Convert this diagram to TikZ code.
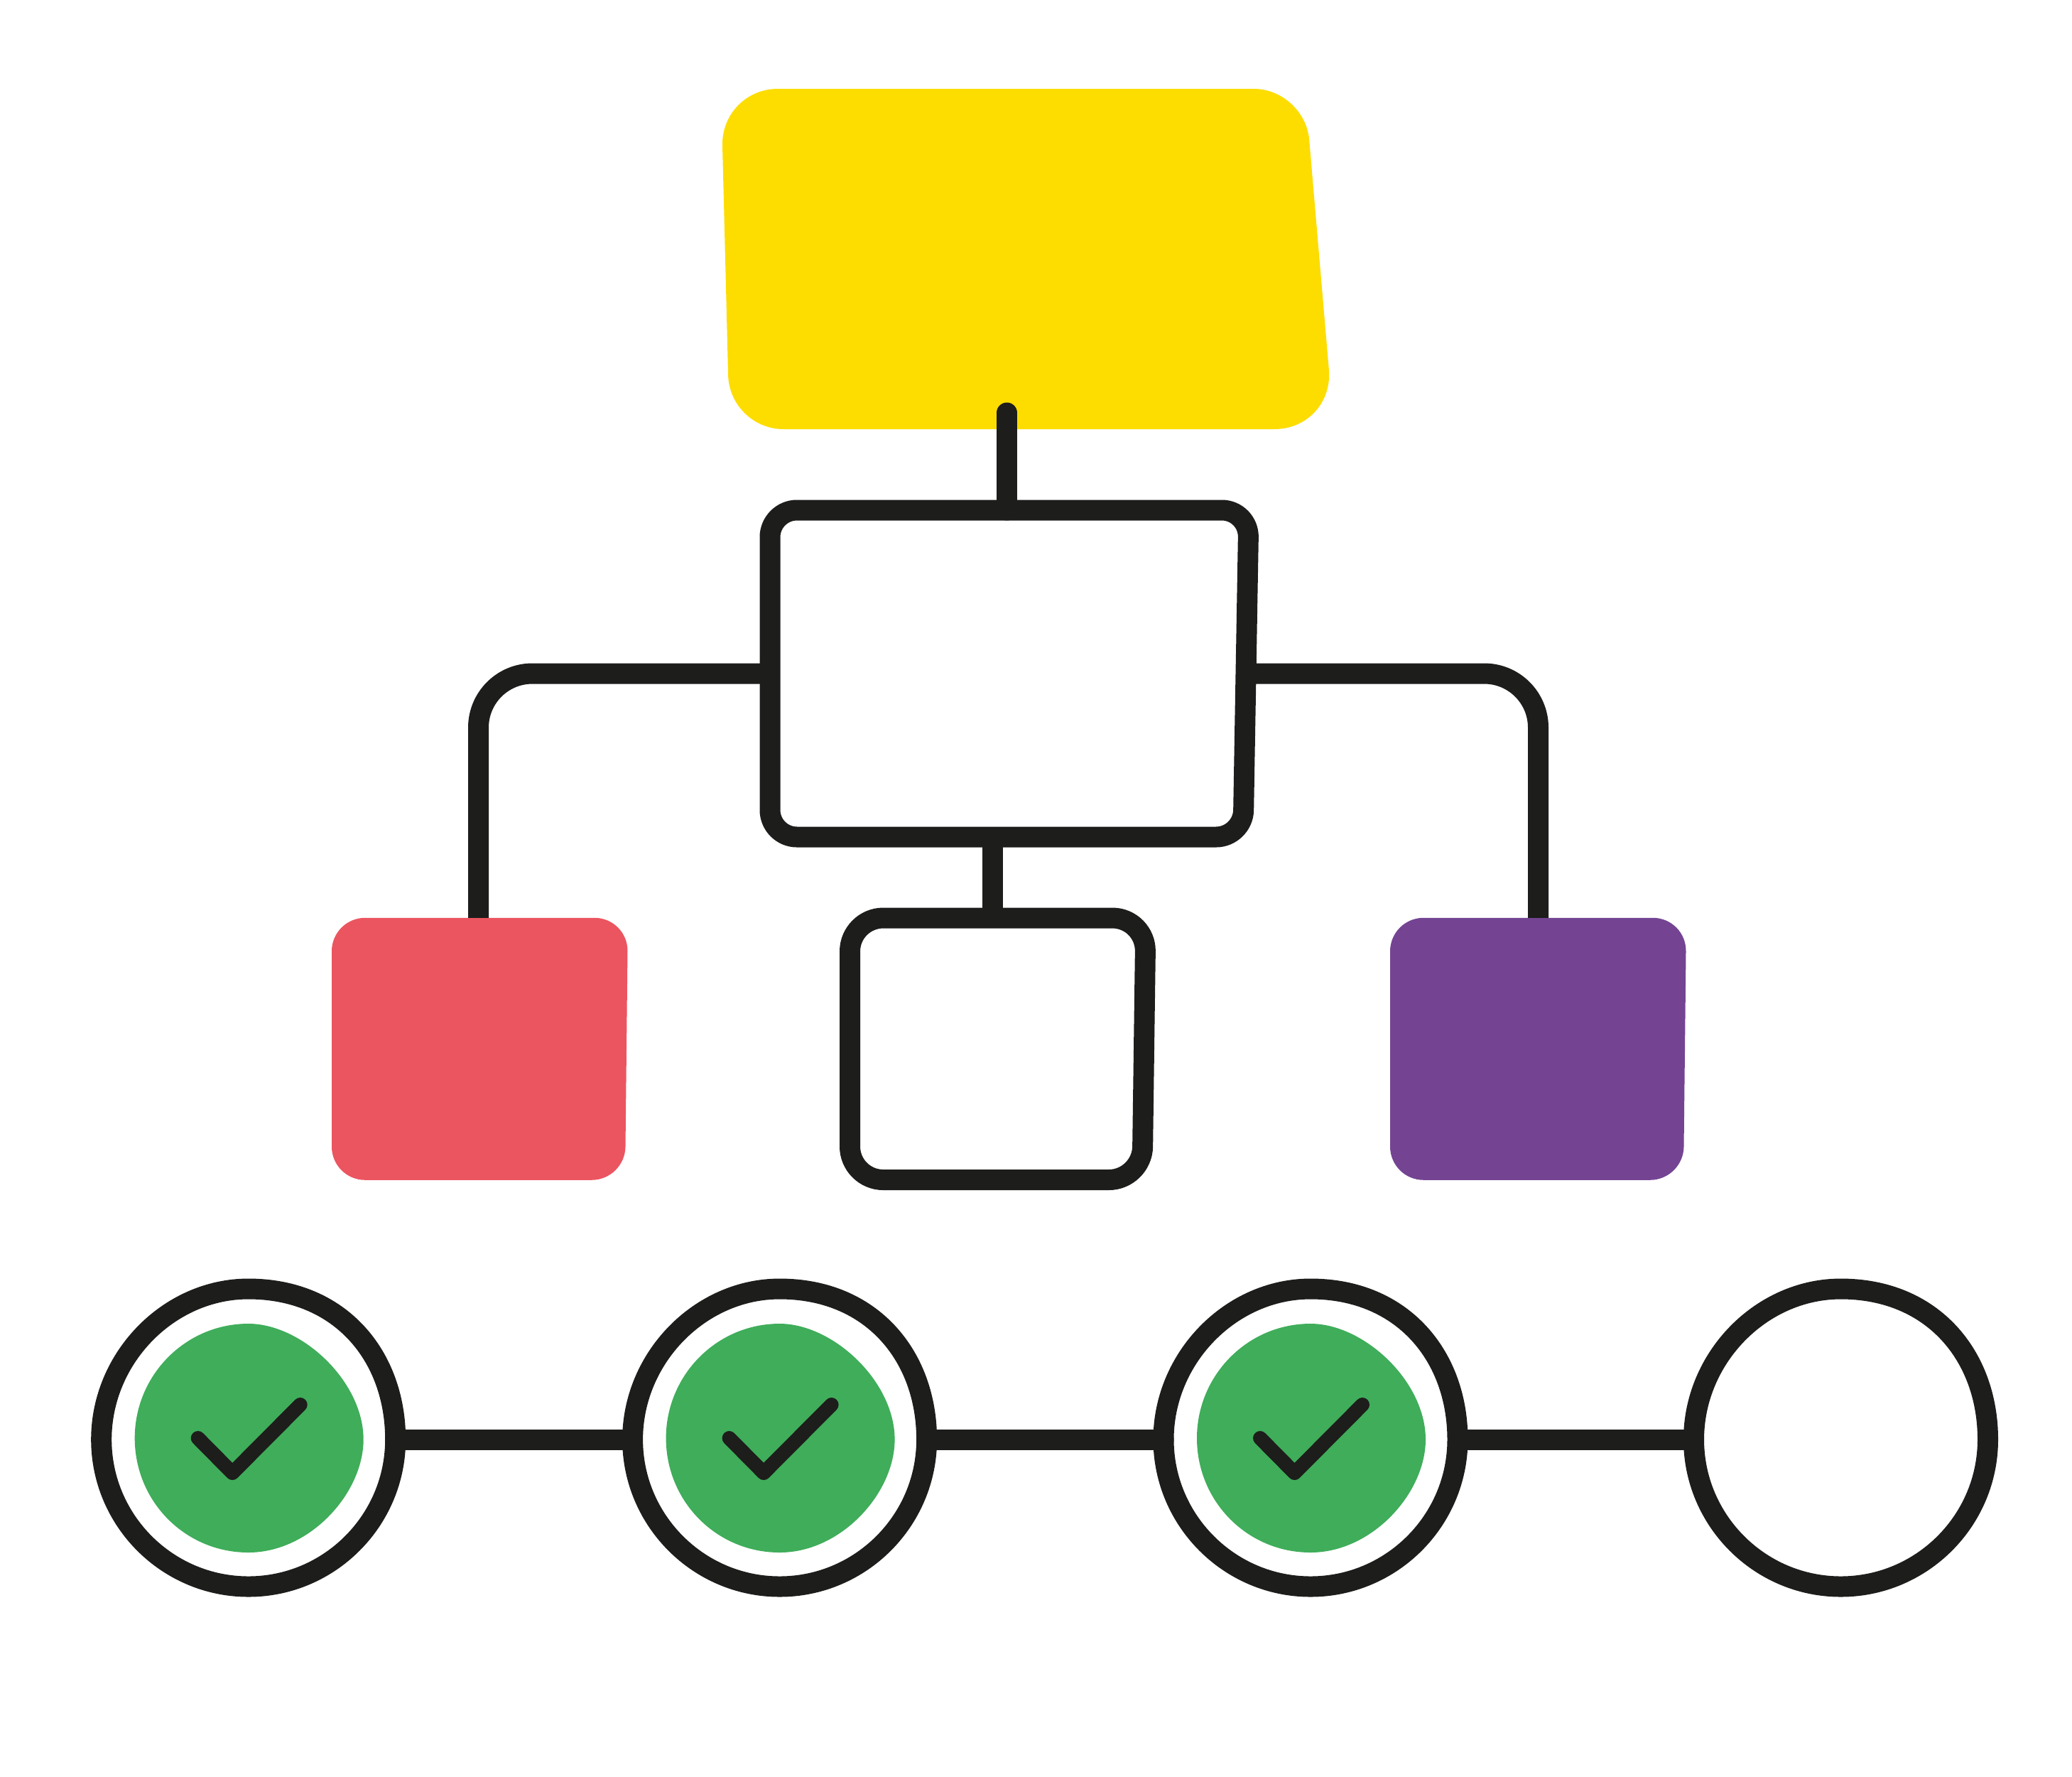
\documentclass[tikz,border=0pt]{standalone}
\usepackage{tikz}
\usepackage{xcolor}
\usetikzlibrary{positioning}
\definecolor{flowblack}{HTML}{1D1D1B}
\definecolor{flowyellow}{HTML}{FDDD00}
\definecolor{flowred}{HTML}{EB5560}
\definecolor{flowpurple}{HTML}{744493}
\definecolor{flowgreen}{HTML}{3FAD5A}

\begin{document}
\begin{tikzpicture}[x=1mm, y=1mm,
      blocknode/.style={rectangle, draw=none, inner sep=0pt, outer sep=0pt},
      stepnode/.style={circle, draw=none, inner sep=0pt, outer sep=0pt, minimum size=41.4mm},
      outline/.style={draw=flowblack, line width=2.9mm},
      linkline/.style={flowblack, line width=2.9mm},
      tickline/.style={flowblack, line width=2mm, line cap=round, line join=round}
    ]
      \useasboundingbox (0,0) rectangle (291.7,-250);
      \node[blocknode, minimum width=86.3mm, minimum height=47.9mm] (topblock) at (144.65,-36.45) {};
      \node[blocknode, minimum width=67.4mm, minimum height=46mm, below=11.4mm of topblock, xshift=-2.55mm] (mainbox) {};
      \node[blocknode, minimum width=41.65mm, minimum height=36.85mm, below=11.4mm of mainbox, xshift=-1.625mm] (smallbox) {};
      \node[blocknode, minimum width=41.7mm, minimum height=36.9mm, left=31.25mm of smallbox] (redblock) {};
      \node[blocknode, minimum width=41.7mm, minimum height=36.9mm, right=34.4mm of smallbox] (purpleblock) {};
      \coordinate[above=13.7mm of mainbox.north, xshift=-0.35mm] (toptip);
      \coordinate (stem) at ([xshift=-0.725mm]smallbox.north);
      \coordinate (redtop) at ([xshift=-0.2mm]redblock.north);

      \fill[flowyellow, rounded corners=7.2mm] (topblock.north west) -- ([xshift=-4.1mm]topblock.north east) [rounded corners=8.4mm]
        -- (topblock.south east) [rounded corners=7.6mm] -- ([xshift=1.2mm]topblock.south west) [rounded corners=8mm] -- cycle;
      \fill[flowred, rounded corners=4.7mm] (redblock.north west) -- (redblock.north east)
        -- ([xshift=-0.4mm]redblock.south east) -- (redblock.south west) -- cycle;
      \fill[flowpurple, rounded corners=4.7mm] (purpleblock.north west) -- (purpleblock.north east)
        -- ([xshift=-0.4mm]purpleblock.south east) -- (purpleblock.south west) -- cycle;
      \draw[outline, rounded corners=3.8mm] (mainbox.north west) -- (mainbox.north east)
        -- ([xshift=-0.8mm]mainbox.south east) -- (mainbox.south west) -- cycle;
      \draw[outline, rounded corners=4.7mm] (smallbox.north west) -- (smallbox.north east)
        -- ([xshift=-0.5mm]smallbox.south east) -- (smallbox.south west) -- cycle;

      \draw[linkline, line cap=round] (toptip) -- (toptip |- mainbox.north);
      \draw[linkline] (mainbox.south -| stem) -- (stem);
      \draw[linkline, rounded corners=7.6mm] (mainbox.west) -| (redtop);
      \draw[linkline, rounded corners=7.6mm] (mainbox.east) -| (purpleblock.north);

      \foreach \i/\x in {1/34.97, 2/109.76, 3/184.5, 4/259.15} {
        \node[stepnode] (step\i) at (\x,-202.6) {};
        \begin{scope}[shift={(step\i)}]
          \draw[outline] (0,21.2) .. controls (13,21.2) and (20.7,11.7) .. (20.7,0)
            .. controls (20.7,-11.4) and (11.4,-20.7) .. (0,-20.7)
            .. controls (-11.4,-20.7) and (-20.7,-11.4) .. (-20.7,0)
            .. controls (-20.7,11.5) and (-11.2,21.2) .. (0,21.2) -- cycle;
        \end{scope}
      }
      \foreach \i in {1,2,3} {
        \begin{scope}[shift={(step\i)}]
          \fill[flowgreen] (0,16.3) .. controls (7.5,16.3) and (16.2,8.2) .. (16.2,0)
            .. controls (16.2,-7.5) and (8.7,-15.9) .. (0,-15.9)
            .. controls (-8.9,-15.9) and (-16,-8.7) .. (-16,0.2)
            .. controls (-16,9) and (-8.9,16.3) .. (0,16.3) -- cycle;
          \draw[tickline] (-7.1,0.2) -- (-2.25,-4.7) -- (7.3,4.9);
        \end{scope}
      }
      \draw[linkline] (step1) -- (step2);
      \draw[linkline, line cap=round] (step2.east) -- (step3.west);
      \draw[linkline] (step3.east) -- (step4.west);
    \end{tikzpicture}
\end{document}
